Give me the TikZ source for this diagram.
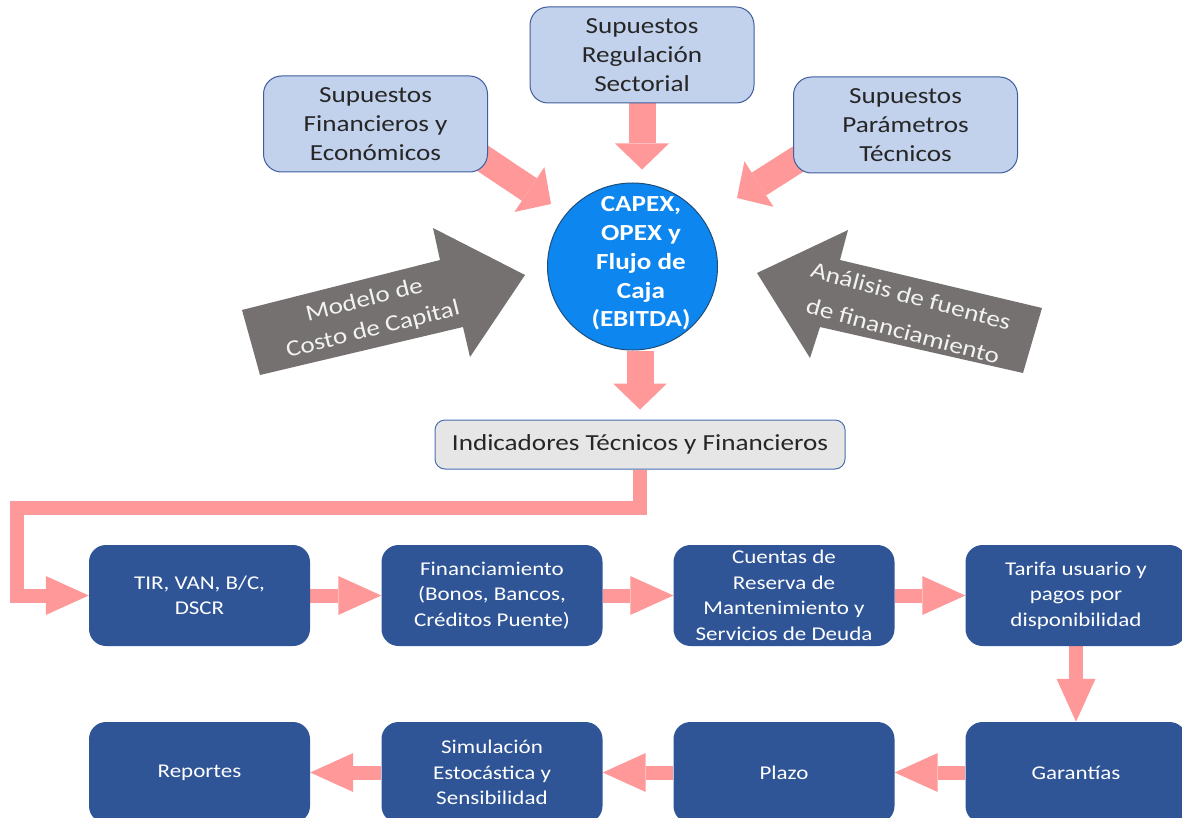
\documentclass[tikz,border=0pt]{standalone}
\usepackage{fontspec}
\setmainfont{Carlito}[FakeStretch=1.18]
\usetikzlibrary{arrows.meta,calc,shapes.geometric,backgrounds}
\definecolor{supfill}{HTML}{C2D1EC}
\definecolor{supedge}{HTML}{3F5E9C}
\definecolor{txtdark}{HTML}{262626}
\definecolor{capfill}{HTML}{0D86F0}
\definecolor{capedge}{HTML}{1F4E79}
\definecolor{pinkarr}{HTML}{FF9999}
\definecolor{grayarr}{HTML}{767171}
\definecolor{boxblue}{HTML}{2F5597}
\definecolor{indfill}{HTML}{E7E6E6}
\definecolor{indedge}{HTML}{4A6EB0}
\begin{document}
\begin{tikzpicture}[x=1pt,y=-1pt,
 supbox/.style={draw=supedge, fill=supfill, line width=1pt, rounded corners=18pt, minimum width=224pt, minimum height=96pt, inner sep=0pt, align=center, text=txtdark, font=\fontsize{23}{29}\selectfont},
 bluebox/.style={fill=boxblue, rounded corners=17pt, minimum width=221pt, minimum height=101pt, inner sep=0pt, align=center, text=white, font=\fontsize{19.5}{25.5}\selectfont},
 capnode/.style={ellipse, draw=capedge, fill=capfill, line width=1pt, minimum width=170pt, minimum height=167pt, inner sep=0pt},
 captext/.style={text=white, align=center, inner sep=0pt, font=\bfseries\fontsize{23}{28.7}\selectfont},
 indbox/.style={draw=indedge, fill=indfill, line width=1pt, rounded corners=10pt, minimum width=410pt, minimum height=49pt, inner sep=0pt, text=txtdark, font=\fontsize{23}{26}\selectfont},
 bigpink/.style={draw=pinkarr, line width=27pt, -{Triangle[length=26pt 0 0, width=54pt 0 0, line width=0pt 0 0]}},
 smallpink/.style={draw=pinkarr, line width=14pt, -{Triangle[length=43pt 0 0, width=39pt 0 0, line width=0pt 0 0]}},
 graytext/.style={text=white!95!black, inner sep=0pt, font=\fontsize{23}{30}\selectfont}
]
\useasboundingbox (0,0) rectangle (1182,818);

% top assumption boxes
\node[supbox] (sfin) at (375.5,124) {Supuestos\\Financieros y\\Económicos};
\node[supbox] (sreg) at (642,55) {Supuestos\\Regulación\\Sectorial};
\node[supbox] (spar) at (905.5,125) {Supuestos\\Parámetros\\Técnicos};

% central ellipse
\node[capnode] (cap) at (632.5,266.5) {};
\node[captext] (captxt) at (641,263.5) {CAPEX,\\OPEX y\\Flujo de\\Caja\\(EBITDA)};

% indicators
\node[indbox] (ind) at (640,444.5) {Indicadores Técnicos y Financieros};

% gray block arrows
\fill[grayarr] (242,310) -- (440,260) -- (433,228) -- (525,275) -- (470,357) -- (463,327) -- (260,375) -- cycle;
\node[graytext, rotate=14] (modtxt1) at (364,299) {Modelo de};
\node[graytext, rotate=14] (modtxt2) at (373,330) {Costo de Capital};
\fill[grayarr] (757,273) -- (848,230) -- (840,260) -- (1042,308) -- (1023,373) -- (820,327) -- (810,358) -- cycle;
\node[graytext, rotate=-15] (anatxt1) at (911,296) {Análisis de fuentes};
\node[graytext, rotate=-15] (anatxt2) at (903,331) {de financiamiento};

% process boxes
\node[bluebox] (tir) at (199.5,595.5) {TIR, VAN, B/C,\\DSCR};
\node[bluebox] (fin) at (492,595.5) {Financiamiento\\(Bonos, Bancos,\\Créditos Puente)};
\node[bluebox] (cue) at (784,595.5) {Cuentas de\\Reserva de\\Mantenimiento y\\Servicios de Deuda};
\node[bluebox] (tar) at (1076,595.5) {Tarifa usuario y\\pagos por\\disponibilidad};
\node[bluebox] (rep) at (199.5,772.5) {Reportes};
\node[bluebox] (sim) at (492,772.5) {Simulación\\Estocástica y\\Sensibilidad};
\node[bluebox] (pla) at (784,772.5) {Plazo};
\node[bluebox] (gar) at (1076,772.5) {Garantías};

\coordinate (tipL) at (551,204);
\coordinate (tipR) at (737,198);
\coordinate (c1) at (17,507.5);

\begin{scope}[on background layer]
\draw[bigpink, shorten >=13pt] (sreg.south) -- (sreg.south |- cap.north);
\draw[bigpink] ($(sfin.south east)+(-17,-22)$) -- (tipL);
\draw[bigpink] ($(spar.south west)+(17,-22)$) -- (tipR);
\draw[bigpink, shorten >=10pt] (ind.north |- cap.south) -- (ind.north);
\draw[smallpink] (ind.south) |- (c1) |- (tir.west);
\draw[smallpink] (tir.east) -- (fin.west);
\draw[smallpink] (fin.east) -- (cue.west);
\draw[smallpink] (cue.east) -- (tar.west);
\draw[smallpink] (tar.south) -- (gar.north);
\draw[smallpink] (gar.west) -- (pla.east);
\draw[smallpink] (pla.west) -- (sim.east);
\draw[smallpink] (sim.west) -- (rep.east);
\end{scope}
\end{tikzpicture}
\end{document}
